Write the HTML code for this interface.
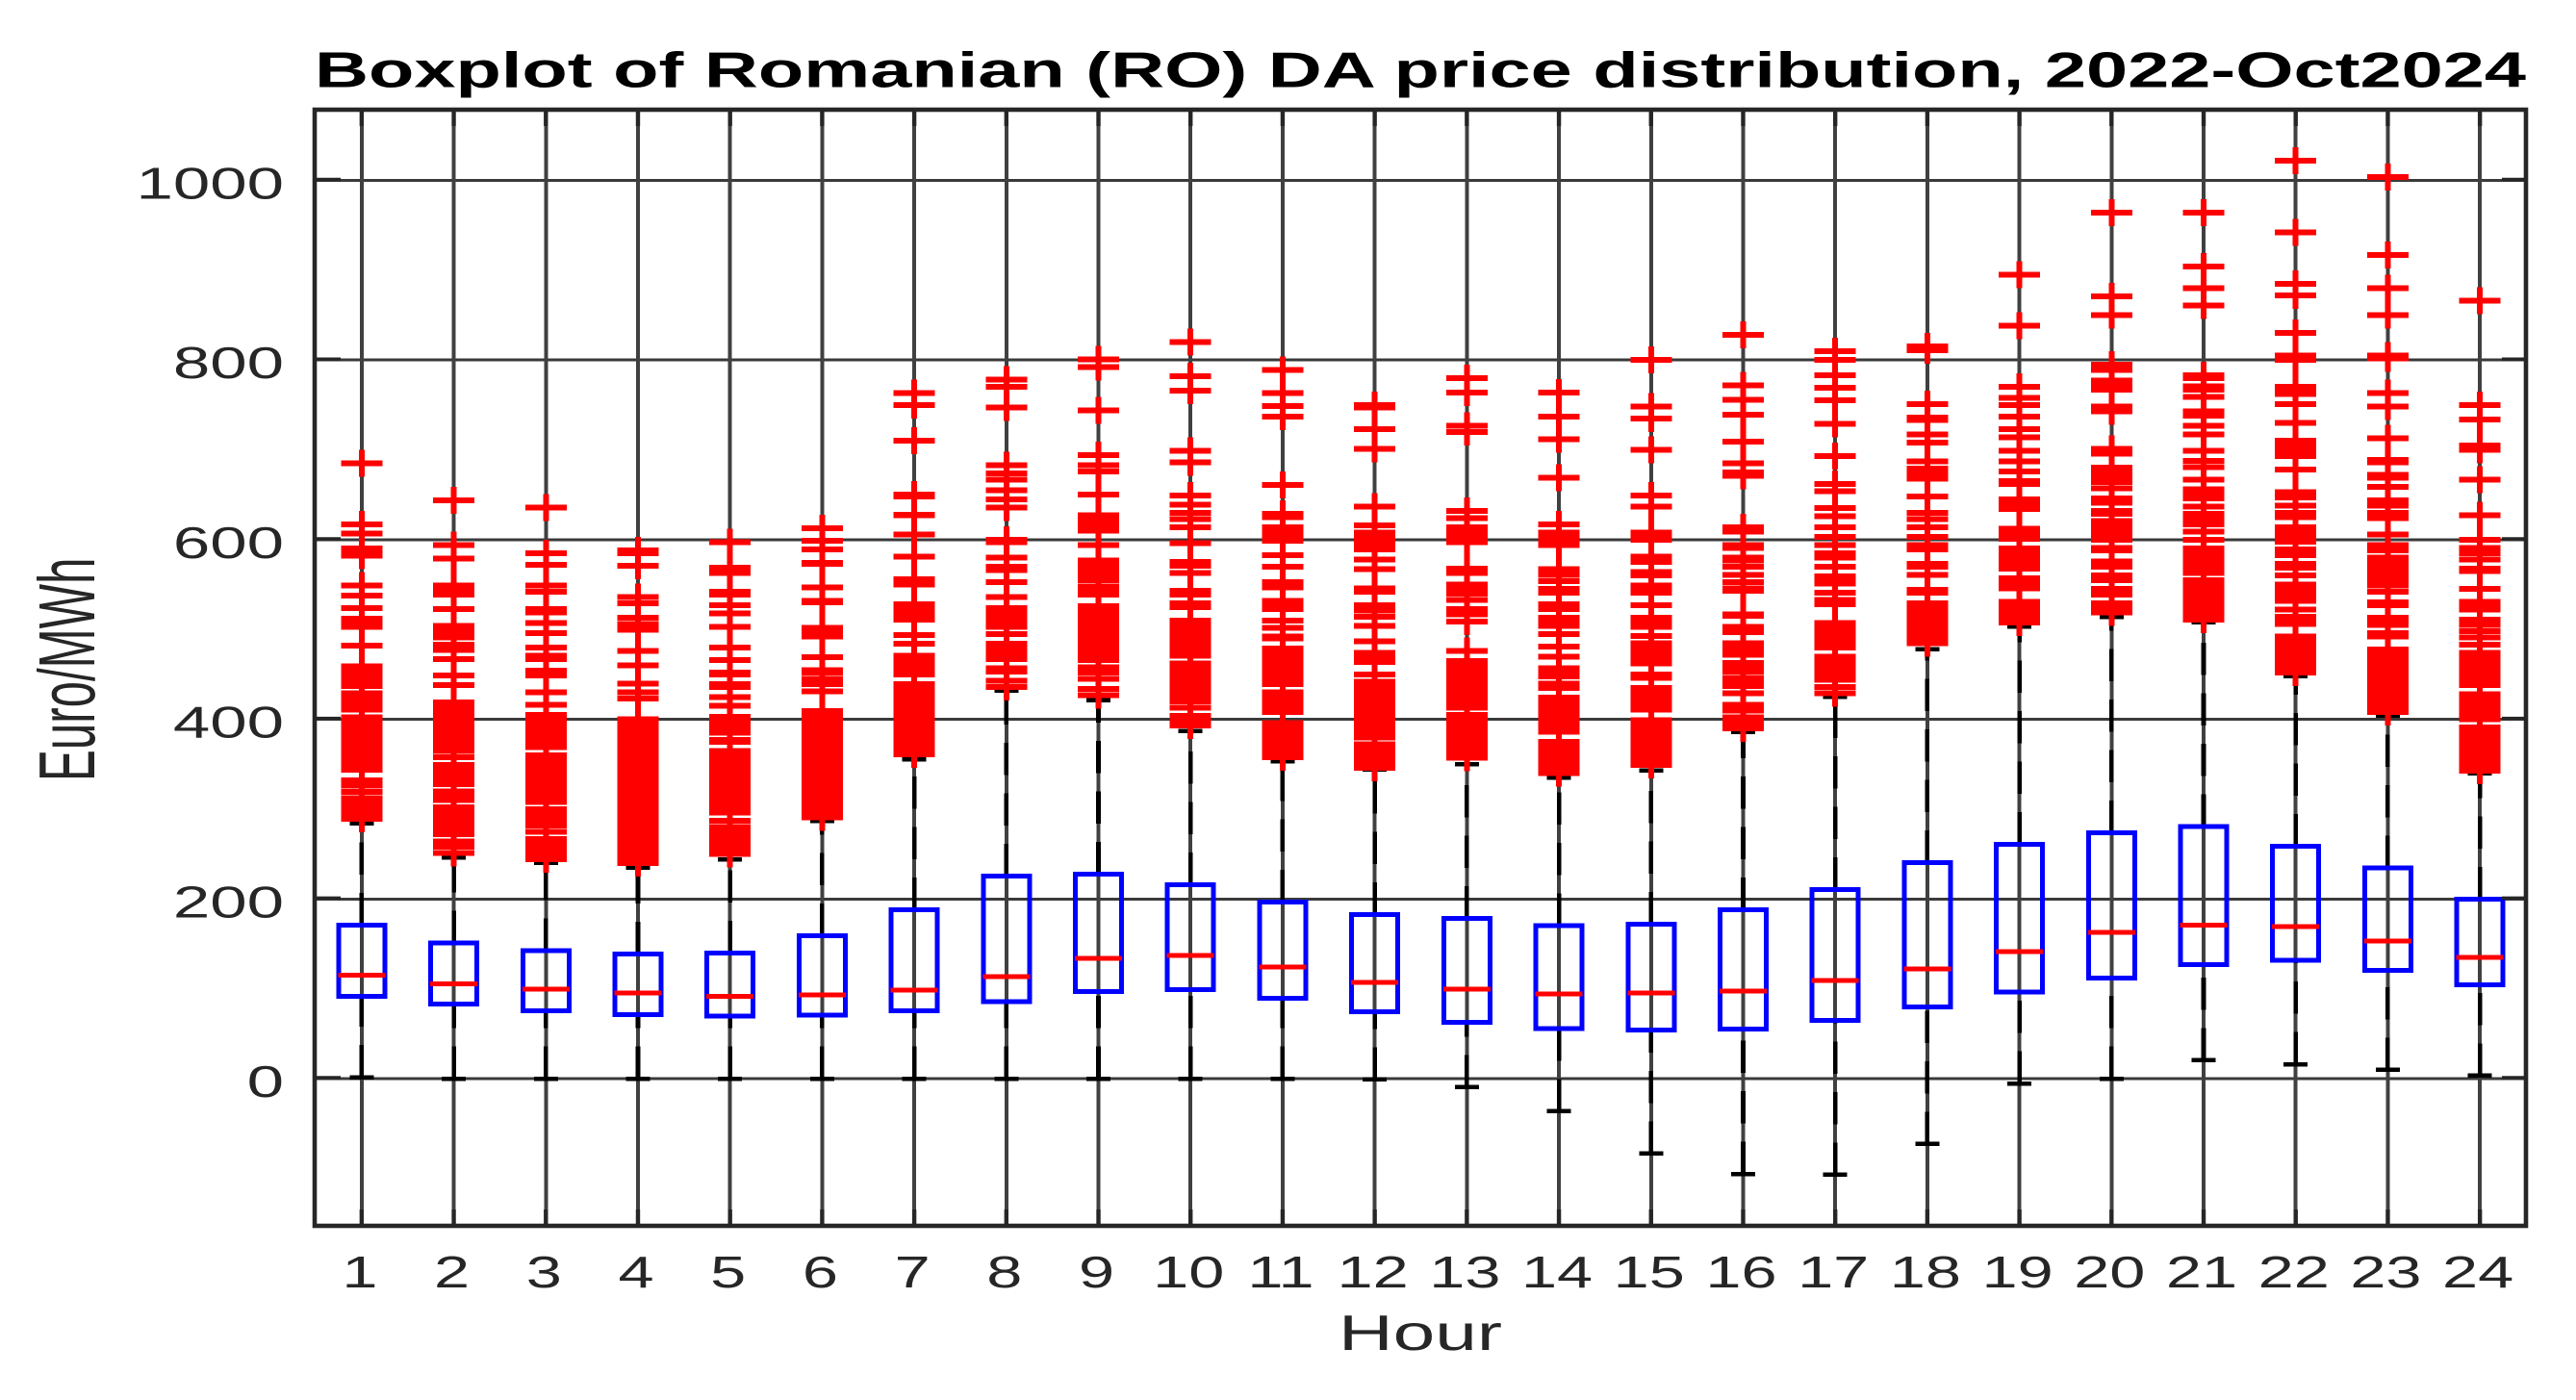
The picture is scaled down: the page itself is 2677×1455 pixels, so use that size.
<!DOCTYPE html>
<html>
<head>
<meta charset="utf-8">
<title>Boxplot of Romanian DA price distribution</title>
<style>
html,body{margin:0;padding:0;background:#fff;width:2677px;height:1455px;overflow:hidden}
svg{display:block}
text{font-family:"Liberation Sans",sans-serif;fill:#262626}
</style>
</head>
<body>
<svg id="chart" xmlns="http://www.w3.org/2000/svg" width="2677" height="1455" viewBox="0 0 2677 1455">
  <rect x="0" y="0" width="2677" height="1455" fill="#fff"/>
  <g id="grid" shape-rendering="crispEdges"></g>
  <g id="whiskers" shape-rendering="crispEdges"></g>
  <g id="boxes" shape-rendering="crispEdges"></g>
  <g id="outliers" shape-rendering="crispEdges"></g>
  <g id="axes"></g>
  <text x="327" y="90.5" font-size="52" font-weight="bold" textLength="2298" lengthAdjust="spacingAndGlyphs" style="fill:#000">Boxplot of Romanian (RO) DA price distribution, 2022-Oct2024</text>
  <text x="1391" y="1403" font-size="52" textLength="170" lengthAdjust="spacingAndGlyphs">Hour</text>
  <text transform="translate(98,812) rotate(-90) scale(1.07,1.79)" font-size="46">Euro/MWh</text>
</svg>
<script>
const hours = [1,2,3,4,5,6,7,8,9,10,11,12,13,14,15,16,17,18,19,20,21,22,23,24];
const yTickLabels = [0,200,400,600,800,1000];
const q1Values = [91.8,83,75.5,71.4,69.5,70.6,75.4,85.7,96.9,99.2,89.3,74.6,62.9,55.8,54,55.3,64.7,79.9,96.5,112.1,126.9,131.8,120.6,104.5];
const medianValues = [115.4,105.5,99.4,95.2,91.8,93,98.7,113.5,134,137.2,124.2,107.2,99.6,94.2,95.1,97.4,109.5,122,141.2,162.7,170.7,169,153.3,134.9];
const q3Values = [170.7,151,142.3,138.9,139.6,159,188.2,225.3,227.6,215.9,196.7,182.8,178.3,170.3,172,188.2,210.6,240.5,260.7,273.6,280.4,258.9,234.7,199.8];
const lowerWhiskerValues = [1.6,0,0,0,0,0,0,0,0,0,0,-1,-9.6,-36.4,-83.4,-106.2,-107.1,-72.7,-5.5,0,20.4,15.9,9.7,3.4];
const upperWhiskerValues = [284,246,240,235,244,287,355.6,432,421,387,353,344,350,335,343,386,425,478,503,514,508,448,404,340];
const outlierHour1 = [685,617,607,590,586,582,549,538,524,512,507,503,482,459,453,447,442,437,429,423,417,411,402,396,390,384,378,372,366,360,354,349,344,332,326,319,312,306,300,294,289];
const outlierHour2 = [644,594,579,549,544,539,523,504,500,495,491,483,477,467,449,438,419,413,407,401,395,389,383,377,371,365,358,349,343,338,333,328,320,315,310,302,296,290,284,278,272,264,258,251];
const outlierHour3 = [636,585,572,549,542,523,519,507,496,480,471,467,454,449,430,416,405,399,393,387,381,375,369,360,354,348,342,336,330,324,318,313,308,300,294,288,282,275,267,261,255,250,244];
const outlierHour4 = [588,585,571,536,529,513,506,500,476,460,440,430,423,400,394,388,382,376,370,364,358,352,346,340,334,328,322,316,310,304,298,292,286,280,274,268,262,256,250,245,240];
const outlierHour5 = [597,569,563,542,539,527,518,503,480,466,452,450,439,436,425,415,403,397,391,385,377,375,365,359,353,347,341,335,329,323,317,311,305,300,296,287,280,274,268,262,256,250];
const outlierHour6 = [613,599,589,574,573,547,532,530,502,497,492,469,455,452,445,439,431,409,403,397,391,385,379,373,367,361,355,349,343,337,331,325,319,313,307,301,296,291];
const outlierHour7 = [763,750,710,650,648,628,627,606,581,556,550,528,522,517,511,494,484,471,465,459,454,450,439,433,427,421,415,409,403,397,391,385,379,373,367,361];
const outlierHour8 = [778,770,747,683,674,667,655,645,636,600,597,580,570,566,553,536,524,518,512,507,503,495,484,478,472,467,457,453,443,436];
const outlierHour9 = [801,792,744,694,683,676,650,627,621,615,610,594,577,571,565,560,555,548,543,539,526,520,514,508,502,496,490,484,478,472,466,458,452,445,434,427];
const outlierHour10 = [820,782,766,699,686,649,639,630,623,614,596,575,571,563,543,539,529,525,510,504,498,492,486,480,474,471,462,456,450,444,438,432,426,420,413,404,398,393];
const outlierHour11 = [789,763,749,737,661,629,625,614,608,603,599,583,570,553,547,532,527,523,510,502,492,490,479,473,467,461,455,449,444,439,430,424,418,413,408,396,390,384,378,372,366,361,358];
const outlierHour12 = [750,747,723,701,637,616,608,603,598,593,589,578,567,546,542,527,521,514,504,487,474,469,464,450,442,436,430,424,418,412,406,400,394,388,384,380,372,366,360,354,348,346];
const outlierHour13 = [780,764,727,720,632,624,614,608,602,597,568,563,550,545,540,533,523,517,509,476,465,459,453,447,441,435,429,423,418,413,405,399,393,387,381,375,369,363,357];
const outlierHour14 = [764,737,712,669,617,608,602,597,594,567,561,554,545,541,528,523,513,508,504,495,481,470,457,452,448,440,435,424,418,412,406,400,394,388,386,375,369,363,357,351,345,340];
const outlierHour15 = [800,748,735,700,649,637,608,604,600,581,575,564,560,549,545,541,527,513,508,503,493,485,479,473,467,462,450,446,435,429,423,417,411,399,393,387,381,375,369,363,357,351,349];
const outlierHour16 = [828,772,756,739,709,685,675,671,614,609,594,591,580,577,570,561,553,546,543,517,515,503,497,485,479,475,472,463,458,453,446,441,437,429,416,410,402,396,390];
const outlierHour17 = [810,800,783,769,755,729,693,662,654,635,626,614,603,594,585,580,570,559,555,551,541,533,528,507,501,495,489,484,480,470,464,458,452,447,444,436,429];
const outlierHour18 = [815,811,751,736,733,717,708,687,679,673,668,648,630,623,614,603,594,589,573,570,561,544,541,529,523,517,511,505,499,493,487,485];
const outlierHour19 = [895,838,770,758,750,737,723,714,699,687,676,665,662,645,639,634,612,606,601,590,584,578,572,568,557,551,546,531,525,519,513,508];
const outlierHour20 = [964,871,850,795,789,777,772,767,748,743,701,696,680,674,669,664,657,646,641,632,629,621,615,609,604,600,591,588,576,573,570,560,555,545,539,529,524,519];
const outlierHour21 = [964,904,880,861,783,780,771,767,759,743,738,727,717,699,688,681,667,656,651,646,637,629,623,617,609,600,590,584,578,572,567,563,555,549,543,537,531,525,519,514,511];
const outlierHour22 = [1022,942,885,872,830,805,800,770,765,762,751,730,710,704,698,693,678,653,647,638,630,625,614,608,603,598,589,583,573,569,560,550,544,538,532,522,514,509,506,492,486,480,474,468,462,456,452];
const outlierHour23 = [1004,917,880,850,805,802,763,748,713,689,686,672,669,659,644,638,630,624,606,594,588,580,574,568,562,556,551,549,542,530,527,513,508,505,496,492,478,472,466,460,454,448,442,436,430,424,418,412,408];
const outlierHour24 = [866,750,734,705,700,667,627,600,591,585,578,568,565,545,531,526,522,511,505,498,491,483,474,468,462,456,450,444,438,428,422,416,410,404,400,391,385,379,373,367,361,355,349,343];
const outlierSeries = [outlierHour1,outlierHour2,outlierHour3,outlierHour4,outlierHour5,outlierHour6,outlierHour7,outlierHour8,outlierHour9,outlierHour10,outlierHour11,outlierHour12,outlierHour13,outlierHour14,outlierHour15,outlierHour16,outlierHour17,outlierHour18,outlierHour19,outlierHour20,outlierHour21,outlierHour22,outlierHour23,outlierHour24];

const NS = 'http://www.w3.org/2000/svg';
const plotLeft = 328, plotRight = 2625, plotTop = 114, plotBottom = 1274;
function xScale(h){ return plotLeft + (h - 0.5) * (plotRight - plotLeft) / 24; }
function yScale(v){ return 1121 - 0.9335 * v; }
function make(parent, tag, attrs){
  const el = document.createElementNS(NS, tag);
  for (const k in attrs) el.setAttribute(k, attrs[k]);
  parent.appendChild(el);
  return el;
}
const gridG = document.getElementById('grid');
const whiskerG = document.getElementById('whiskers');
const boxG = document.getElementById('boxes');
const outlierG = document.getElementById('outliers');
const axesG = document.getElementById('axes');

yTickLabels.forEach(function(t){
  const y = yScale(t);
  const line = make(gridG, 'line', {x1:plotLeft, x2:plotRight, y1:y, y2:y, stroke:'#3a3a3a', 'stroke-width':3});
  
  
  const tl = make(axesG, 'line', {x1:plotLeft, x2:plotLeft+26, y1:y-1, y2:y-1, stroke:'#262626', 'stroke-width':3.4});
  
  
  const tr = make(axesG, 'line', {x1:plotRight-25, x2:plotRight, y1:y-1, y2:y-1, stroke:'#262626', 'stroke-width':3.4});
  
  
  const lab = make(axesG, 'text', {transform:'translate(295,'+(y+19)+') scale(1.5,1)', 'font-size':46, 'text-anchor':'end'});
  lab.textContent = String(t);
  
  
});

hours.forEach(function(h, i){
  const x = xScale(h);
  const g = make(gridG, 'line', {x1:x, x2:x, y1:plotTop, y2:plotBottom, stroke:'#404040', 'stroke-width':4});
  
  
  const t1 = make(axesG, 'line', {x1:x, x2:x, y1:plotTop, y2:plotTop+17, stroke:'#262626', 'stroke-width':4.4});
  
  
  const t2 = make(axesG, 'line', {x1:x, x2:x, y1:plotBottom-17, y2:plotBottom, stroke:'#262626', 'stroke-width':4.4});
  
  
  const lab = make(axesG, 'text', {transform:'translate('+(x-2)+',1338) scale(1.45,1)', 'font-size':46, 'text-anchor':'middle'});
  lab.textContent = String(h);
  
  

  const up = make(whiskerG, 'line', {x1:x, x2:x, y1:yScale(q3Values[i]), y2:yScale(upperWhiskerValues[i]), stroke:'#000', 'stroke-width':4.6, 'stroke-dasharray':'33.5 19'});
  
  
  const low = make(whiskerG, 'line', {x1:x, x2:x, y1:yScale(lowerWhiskerValues[i]), y2:yScale(q1Values[i]), stroke:'#000', 'stroke-width':4.6, 'stroke-dasharray':'33.5 19'});
  
  
  const capU = make(whiskerG, 'line', {x1:x-12.5, x2:x+12.5, y1:yScale(upperWhiskerValues[i]), y2:yScale(upperWhiskerValues[i]), stroke:'#000', 'stroke-width':4.5});
  
  
  const capL = make(whiskerG, 'line', {x1:x-12.5, x2:x+12.5, y1:yScale(lowerWhiskerValues[i]), y2:yScale(lowerWhiskerValues[i]), stroke:'#000', 'stroke-width':4.5});
  
  

  const yTop = yScale(q3Values[i]), yBot = yScale(q1Values[i]);
  const box = make(boxG, 'rect', {x:x-24, y:yTop, width:48, height:yBot-yTop, fill:'none', stroke:'#0000ff', 'stroke-width':5});
  
  
  const med = make(boxG, 'line', {x1:x-24.5, x2:x+24.5, y1:yScale(medianValues[i]), y2:yScale(medianValues[i]), stroke:'#ff0000', 'stroke-width':5});
  
  

  outlierSeries[i].forEach(function(v){
    const y = yScale(v);
    const p = make(outlierG, 'path', {d:'M'+(x-21.5)+' '+y+'H'+(x+21.5)+'M'+x+' '+(y-14)+'V'+(y+14), stroke:'#ff0000', 'stroke-width':6, fill:'none'});
    
    
  });
});

const frame = make(axesG, 'rect', {x:plotLeft-1, y:plotTop, width:plotRight-plotLeft+1, height:plotBottom-plotTop, fill:'none', stroke:'#262626', 'stroke-width':4.6});


</script>
</body>
</html>
